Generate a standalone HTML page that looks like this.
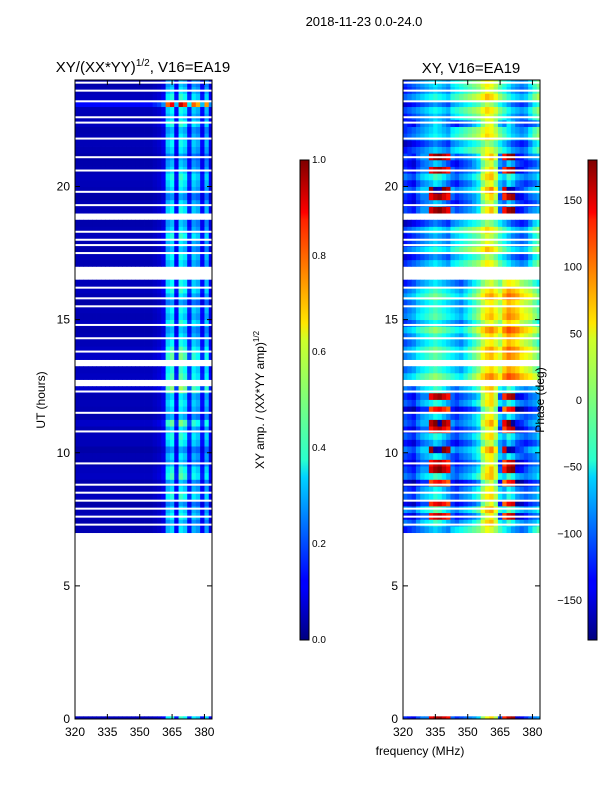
<!DOCTYPE html>
<html><head><meta charset="utf-8"><style>
body{margin:0;background:#fff;width:600px;height:800px;overflow:hidden;font-family:"Liberation Sans",sans-serif}
svg text{font-family:"Liberation Sans",sans-serif}
</style></head><body>
<svg id="fig" width="600" height="800" xmlns="http://www.w3.org/2000/svg">
<defs>
<linearGradient id="jet" x1="0" y1="1" x2="0" y2="0">
<stop offset="0" stop-color="#00007f"/><stop offset="0.11" stop-color="#0000ff"/><stop offset="0.125" stop-color="#0000ff"/>
<stop offset="0.34" stop-color="#00d4ff"/><stop offset="0.375" stop-color="#29ffce"/><stop offset="0.5" stop-color="#7dff7a"/>
<stop offset="0.625" stop-color="#ceff29"/><stop offset="0.66" stop-color="#ffe600"/><stop offset="0.875" stop-color="#ff2200"/>
<stop offset="0.89" stop-color="#ff0000"/><stop offset="1" stop-color="#7f0000"/>
</linearGradient>
<clipPath id="c1"><rect x="75" y="80" width="137" height="639"/></clipPath>
<clipPath id="c2"><rect x="403" y="80" width="137" height="639"/></clipPath>
</defs>
<text x="364" y="26" font-size="13" text-anchor="middle">2018-11-23 0.0-24.0</text>
<text x="143" y="72" font-size="15" text-anchor="middle">XY/(XX*YY)<tspan font-size="10" dy="-6">1/2</tspan><tspan dy="6">, V16=EA19</tspan></text>
<text x="471" y="73" font-size="15" text-anchor="middle">XY, V16=EA19</text>
<g id="p1" clip-path="url(#c1)"></g>
<g id="p2" clip-path="url(#c2)"></g>
<g id="axes"></g>
<text x="420" y="755" font-size="12" text-anchor="middle">frequency (MHz)</text>
<text transform="translate(45,400) rotate(-90)" font-size="12" text-anchor="middle">UT (hours)</text>
<rect x="300" y="160" width="9" height="480" fill="url(#jet)" stroke="#000" stroke-width="1"/>
<rect x="588" y="160" width="9" height="480" fill="url(#jet)" stroke="#000" stroke-width="1"/>
<text transform="translate(264,400) rotate(-90)" font-size="12" text-anchor="middle">XY amp. / (XX*YY amp)<tspan font-size="8" dy="-5">1/2</tspan></text>
<text transform="translate(544,400) rotate(-90)" font-size="12" text-anchor="middle">Phase (deg)</text>
</svg>
<script>
const ampTicks=[0.0,0.2,0.4,0.6,0.8,1.0];
const phaseTicks=[-150,-100,-50,0,50,100,150];
const freqTicks=[320,335,350,365,380];
const timeTicks=[0,5,10,15,20];
// amplitude vs channel (channel c = 320+2c MHz)
const ampProfile=[0.05,0.05,0.05,0.05,0.05,0.05,0.05,0.05,0.05,0.05,0.05,0.05,0.05,0.05,0.05,0.05,0.05,0.05,0.06,0.07,0.10,0.30,0.34,0.12,0.36,0.32,0.14,0.30,0.27,0.12,0.28,0.10];
// per-row gain, rows 7.0..24.0 step 0.25
const rowGain=[1.0,0.9,1.1,1.0,0.8,1.2,1.0,0.9,1.3,1.2,0.9,1.0,0.8,1.1,1.2,1.0,1.4,0.9,1.0,1.1,1.0,1.5,0.8,1.3,1.2,1.0,1.4,1.3,1.1,1.0,0.9,1.2,1.0,1.1,0.8,1.0,1.2,1.1,0.9,0.9,1.0,1.1,0.9,1.0,1.2,1.0,0.9,1.0,1.1,1.0,0.8,1.0,1.1,1.2,1.0,0.9,0.8,1.0,1.1,1.0,0.9,1.2,1.0,1.1,2.6,1.2,1.0,0.9];
const rowFlag=[22,25,38,39,47];
const flagLines=[23.9,23.6,23.2,22.6,22.4,21.8,21.1,20.6,19.8,19.3,18.3,18.0,17.8,17.5,16.2,15.8,15.5,14.8,14.3,13.8,12.3,11.5,10.8,9.6,8.8,8.5,8.2,7.9,7.6,7.3];
const phaseA=[-130,-120,-110,-100,-90,-80,-70,-60,-70,-80,-90,-60,-50,-40,-30,-20,-10,0,20,40,30,10,-20,-40,-60,-80,-90,-100,-90,-60,-30,-10];
const phaseB=[-120,-130,-140,-110,-90,-90,140,160,170,150,130,-100,-120,-110,-100,-90,-80,-60,10,40,60,20,-110,120,160,170,-150,-140,-120,-100,-90,-80];
const phaseE=[-110,-120,-130,-100,-80,-70,-60,-40,-50,-70,-90,-110,-120,-100,-90,-80,-60,-40,10,40,50,10,-60,-80,-40,-60,-90,-100,-110,-100,-90,-70];
const phaseD=[-100,-90,-80,-60,-50,-40,-30,-20,-30,-40,-50,-60,-70,-80,-60,-40,-20,0,30,50,60,40,20,60,80,70,60,40,30,20,0,-20];
const rowPattern="AEBEBEEBEBBEBEEBBEBEBEDDDDDDDDDDDDDDDDAAAAAAAAAEBEBBEEBEBAAAAEAAAAAAA";
const rowShift=[0,20,-10,30,-20,10,0,-30,20,10,-10,0,30,-20,10,-10,20,0,-30,10,0,20,-10,30,0,-20,10,20,-10,0,30,-20,10,0,-10,20,0,-30,0,0,10,-20,30,0,-10,20,-30,0,10,-20,0,30,-10,20,0,-20,10,0,-30,20,10,-10,0,20,-20,30,0,10];

function jet(v){v=Math.max(0,Math.min(1,v));
 const r=Math.min(4*v-1.5,-4*v+4.5),g=Math.min(4*v-0.5,-4*v+3.5),b=Math.min(4*v+0.5,-4*v+2.5);
 const c=x=>Math.round(255*Math.max(0,Math.min(1,x)));return `rgb(${c(r)},${c(g)},${c(b)})`;}
const NS='http://www.w3.org/2000/svg';
function el(t,a,p){const e=document.createElementNS(NS,t);for(const k in a)e.setAttribute(k,a[k]);p.appendChild(e);return e;}
const Y=t=>719-(t/24)*639;
const X1=f=>75+(f-320)/63.5*137, X2=f=>403+(f-320)/63.5*137;
const p1=document.getElementById('p1'),p2=document.getElementById('p2'),ax=document.getElementById('axes');
function cell(g,X,c,t0,t1,col){const r=el('rect',{x:X(320+2*c),y:Y(t1),width:X(322)-X(320)+0.4,height:Y(t0)-Y(t1)+0.4,fill:col},g);
 
 }
const profs={A:phaseA,B:phaseB,D:phaseD,E:phaseE};
for(let r=0;r<rowGain.length;r++){
 if(rowFlag.includes(r))continue;
 const t0=7+0.25*r,t1=t0+0.25;
 const prof=profs[rowPattern[r]];
 for(let c=0;c<32;c++){
  cell(p1,X1,c,t0,t1,jet(ampProfile[c]*rowGain[r]));
  let ph=prof[c]+rowShift[r];if(ph>180)ph-=360;if(ph<-180)ph+=360;
  cell(p2,X2,c,t0,t1,jet((ph+180)/360));
 }
}
for(let c=0;c<32;c++){cell(p1,X1,c,0,0.1,jet(ampProfile[c]*1.2));cell(p2,X2,c,0,0.1,jet((phaseB[c]+180)/360));}
for(const t of flagLines){for(const [g,x] of [[p1,75],[p2,403]]){const l=el('rect',{x:x,y:Y(t)-1,width:137,height:2,fill:'#fff'},g);
 
 }}
for(const x0 of [75,403]){
 const f=el('rect',{x:x0,y:80,width:137,height:639,fill:'none',stroke:'#000','stroke-width':1},ax);
 
 
 const X=x0===75?X1:X2;
 for(const v of freqTicks){const x=X(v);
  el('line',{x1:x,y1:719,x2:x,y2:714,stroke:'#000'},ax);el('line',{x1:x,y1:80,x2:x,y2:85,stroke:'#000'},ax);
  const t=el('text',{x:x,y:736,'font-size':12,'text-anchor':'middle'},ax);t.textContent=v;
  
  }
 for(const v of timeTicks){const y=Y(v);
  el('line',{x1:x0,y1:y,x2:x0+5,y2:y,stroke:'#000'},ax);el('line',{x1:x0+137,y1:y,x2:x0+132,y2:y,stroke:'#000'},ax);
  const t=el('text',{x:x0-5,y:y+4,'font-size':12,'text-anchor':'end'},ax);t.textContent=v;
  
  }
}
for(const v of ampTicks){const y=640-v*480;
 el('line',{x1:305,y1:y,x2:309,y2:y,stroke:'#000'},ax);
 const t=el('text',{x:312,y:y+3,'font-size':10},ax);t.textContent=v.toFixed(1);
 
 }
for(const v of phaseTicks){const y=640-(v+180)/360*480;
 el('line',{x1:593,y1:y,x2:597,y2:y,stroke:'#000'},ax);
 const t=el('text',{x:582,y:y+4,'font-size':11,'text-anchor':'end'},ax);t.textContent=v<0?'\u2212'+(-v):v;
 
 }
</script>
</body></html>
